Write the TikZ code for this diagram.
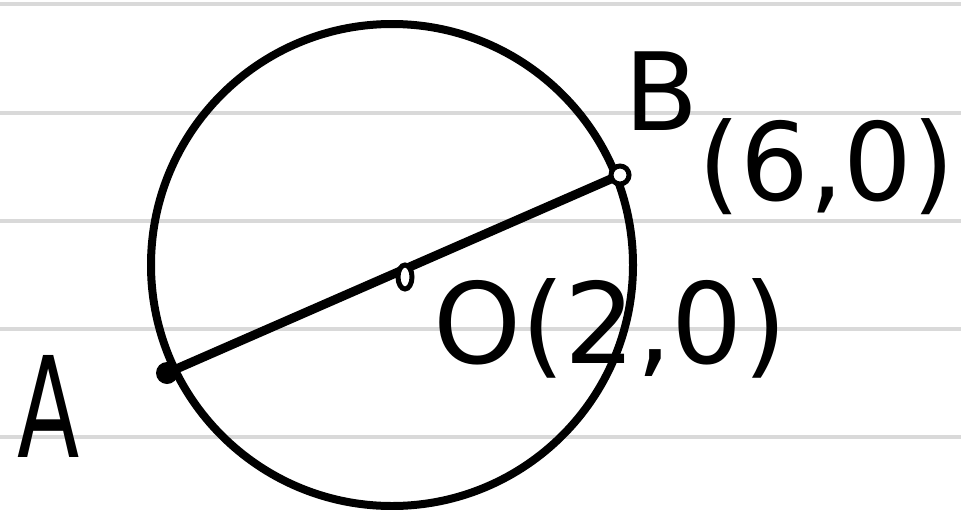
\documentclass[tikz,border=0pt]{standalone}
\usepackage{fontspec}
\setmainfont{DejaVu Sans}
\usetikzlibrary{shapes.geometric}
\begin{document}
\begin{tikzpicture}[x=1pt,y=-1pt,
  ruled/.style={draw=black!15, line width=4pt},
  lbl/.style={inner sep=0pt, anchor=center, text=black}]
\useasboundingbox (0,0) rectangle (961,509);
\fill[white] (0,0) rectangle (961,509);
\foreach \y in {4,113,221,329,437} \draw[ruled] (0,\y) -- (961,\y);
\node[circle, draw, line width=8pt, minimum size=482pt, inner sep=0pt] (circ) at (392,265) {};
\coordinate (a) at (167,373);
\coordinate (o) at (405,277);
\coordinate (b) at (620,175);
\draw[line width=9pt] (a) -- (b);
\node[circle, fill=black, minimum size=22pt, inner sep=0pt] (A) at (a) {};
\node[ellipse, draw, line width=5pt, fill=white, minimum width=14pt, minimum height=24pt, inner sep=0pt] (O) at (o) {};
\node[circle, draw, line width=5pt, fill=white, minimum size=18pt, inner sep=0pt] (B) at (b) {};
\node[lbl, font=\fontsize{140}{140}\selectfont, xscale=0.65] (labA) at (49,406) {A};
\node[lbl, font=\fontsize{108}{108}\selectfont, anchor=base west] (labB) at (624,200) {\raisebox{70pt}{B}(6,0)};
\node[lbl, font=\fontsize{112}{112}\selectfont] (labO) at (610,328) {O(2,0)};
\end{tikzpicture}
\end{document}
